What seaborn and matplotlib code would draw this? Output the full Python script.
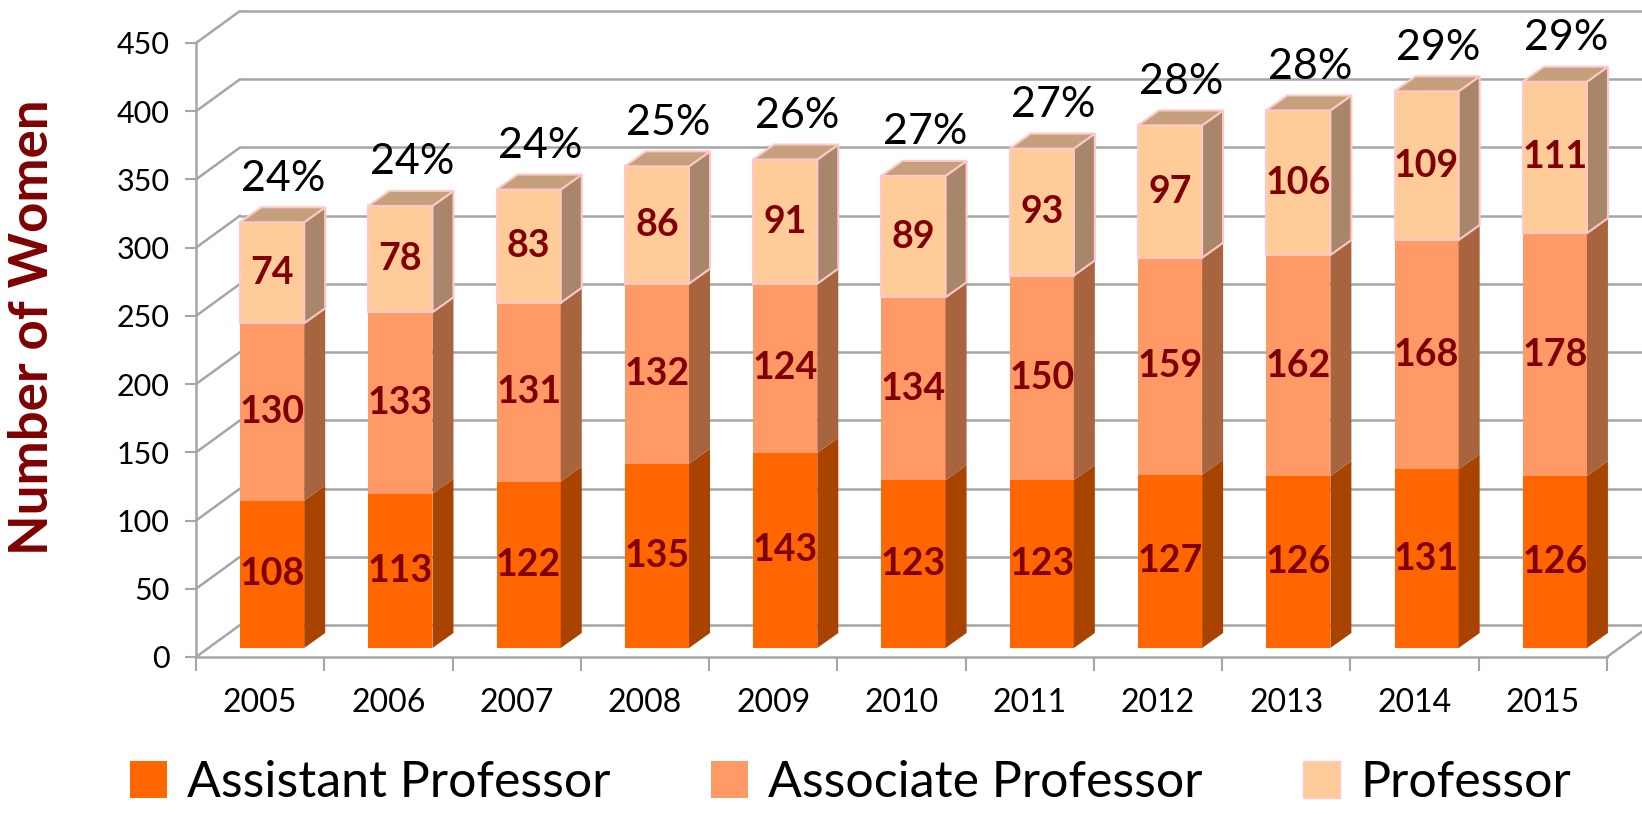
import numpy as np
import matplotlib
matplotlib.use("Agg")
import matplotlib.pyplot as plt
from matplotlib.patches import Polygon, Patch
import seaborn as sns

years = ["2005", "2006", "2007", "2008", "2009", "2010", "2011", "2012", "2013", "2014", "2015"]
assistant = [108, 113, 122, 135, 143, 123, 123, 127, 126, 131, 126]
associate = [130, 133, 131, 132, 124, 134, 150, 159, 162, 168, 178]
professor = [74, 78, 83, 86, 91, 89, 93, 97, 106, 109, 111]
pct_labels = ["24%", "24%", "24%", "25%", "26%", "27%", "27%", "28%", "28%", "29%", "29%"]
ranks = ["Assistant Professor", "Associate Professor", "Professor"]

front_colors = ["#FF6600", "#FF9966", "#FFCC99"]
side_colors = ["#A84400", "#A8643F", "#A8866A"]
top_color = "#C6A07C"
edge_colors = ["none", "none", "#FFC8C8"]
grid_color = "#A6A6A6"
label_red = "#800000"

sns.set_style("white")
plt.rcParams["font.family"] = ["Lato", "DejaVu Sans"]
plt.rcParams["text.color"] = "black"

W, H = 1642, 814
fig = plt.figure(figsize=(W / 100, H / 100), dpi=100)
ax = fig.add_axes([196 / W, 157 / H, 1411 / W, 614 / H])

# pixel -> data conversions for the fake 3d depth
px_x = 1411 / 11
px_y = 614 / 450
wall = (44 / px_x, 32 / px_y)
front = (12 / px_x, 9 / px_y)
depth = (21 / px_x, 15 / px_y)

# back wall gridlines + left wall diagonals
ticks = np.arange(0, 451, 50)
for t in ticks:
    ax.plot([-0.5, -0.5 + wall[0]], [t, t + wall[1]], color=grid_color, lw=1.8, zorder=1, clip_on=False)
    ax.plot([-0.5 + wall[0], 10.5 + wall[0]], [t + wall[1], t + wall[1]], color=grid_color, lw=1.8, zorder=1, clip_on=False)
# floor right edge
ax.plot([10.5, 10.5 + wall[0]], [0, wall[1]], color=grid_color, lw=1.8, zorder=1, clip_on=False)

bottoms = np.zeros(len(years))
segments = [assistant, associate, professor]
for k, vals in enumerate(segments):
    n0 = len(ax.patches)
    sns.barplot(x=years, y=vals, bottom=bottoms, color=front_colors[k], saturation=1,
                width=0.5, ax=ax, zorder=3, edgecolor=edge_colors[k], linewidth=1.5)
    bars = ax.patches[n0:]
    for i, bar in enumerate(bars):
        bar.set_x(bar.get_x() + front[0])
        bar.set_y(bar.get_y() + front[1])
        x0 = bar.get_x()
        x1 = x0 + bar.get_width()
        y0 = bar.get_y()
        y1 = y0 + bar.get_height()
        side = Polygon([(x1, y0), (x1 + depth[0], y0 + depth[1]),
                        (x1 + depth[0], y1 + depth[1]), (x1, y1)],
                       closed=True, facecolor=side_colors[k], edgecolor=edge_colors[k],
                       lw=1.5, zorder=3, clip_on=False)
        ax.add_patch(side)
        if k == len(segments) - 1:
            top = Polygon([(x0, y1), (x0 + depth[0], y1 + depth[1]),
                           (x1 + depth[0], y1 + depth[1]), (x1, y1)],
                          closed=True, facecolor=top_color, edgecolor=edge_colors[k],
                          lw=1.5, zorder=3, clip_on=False)
            ax.add_patch(top)
            ax.text(i + front[0] + 0.09, y1 + depth[1] + 21, pct_labels[i],
                    ha="center", va="center", fontsize=31, color="black", zorder=5)
        ax.text((x0 + x1) / 2, (y0 + y1) / 2, str(vals[i]), ha="center", va="center",
                fontsize=27, fontweight="bold", color=label_red, zorder=5)
    bottoms = bottoms + np.array(vals)

ax.set_xlim(-0.5, 10.5)
ax.set_ylim(0, 450)
ax.set_yticks(ticks)
ax.set_xticks(range(len(years)))
ax.set_xticklabels(years)
ax.set_xticks(np.arange(-0.5, 11, 1), minor=True)
ax.set_xlabel("")
ax.set_ylabel("")
for s in ["top", "right"]:
    ax.spines[s].set_visible(False)
for s in ["left", "bottom"]:
    ax.spines[s].set_color(grid_color)
    ax.spines[s].set_linewidth(1.8)
ax.tick_params(axis="y", left=True, length=8, width=1.5, color=grid_color, labelsize=22, pad=11, labelcolor="black")
ax.tick_params(axis="x", which="major", bottom=True, length=0, labelsize=23, pad=22, labelcolor="black")
ax.tick_params(axis="x", which="minor", bottom=True, length=10, width=1.5, color=grid_color)

fig.text(33 / W, 1 - 327 / H, "Number of Women", rotation=90, ha="center", va="center",
         fontsize=38, fontweight="bold", color=label_red)

handles = [Patch(facecolor=front_colors[k], edgecolor=edge_colors[k], label=ranks[k]) for k in range(3)]
leg = fig.legend(handles=handles, loc="lower center", bbox_to_anchor=(0.518, -0.045), ncol=3,
                 frameon=False, fontsize=36, handlelength=0.75, handleheight=0.75,
                 columnspacing=2.0, handletextpad=0.4)
for txt in leg.get_texts():
    txt.set_color("black")

fig.savefig("out.png", dpi=100)
